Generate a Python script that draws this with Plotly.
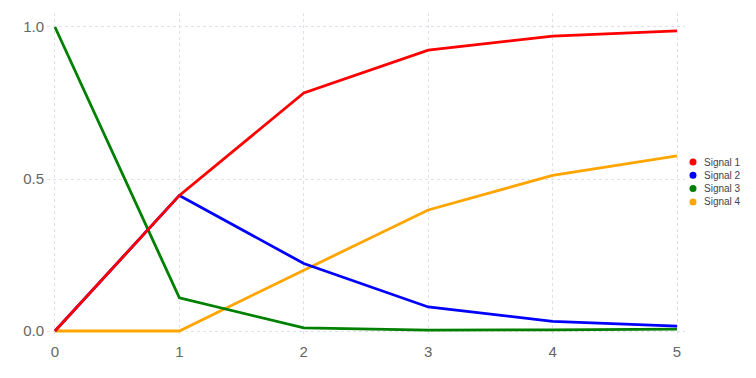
import plotly.graph_objects as go

steps = [0, 1, 2, 3, 4, 5]
signal_names = ["Signal 1", "Signal 2", "Signal 3", "Signal 4"]
signal_1 = [0.0, 0.446, 0.783, 0.924, 0.970, 0.987]
signal_2 = [0.0, 0.446, 0.222, 0.079, 0.032, 0.016]
signal_3 = [1.0, 0.109, 0.010, 0.003, 0.004, 0.006]
signal_4 = [0.0, 0.0, 0.200, 0.398, 0.512, 0.576]
colors = ["#ff0000", "#0000ff", "#008000", "#ffa500"]
y_ticks = [0.0, 0.5, 1.0]
y_tick_labels = ["0.0", "0.5", "1.0"]

series = [signal_1, signal_2, signal_3, signal_4]

fig = go.Figure()
# draw in reverse so Signal 1 is on top
for name, vals, col in reversed(list(zip(signal_names, series, colors))):
    fig.add_trace(go.Scatter(x=steps, y=vals, mode="lines", name=name,
                             line=dict(color=col, width=2.8),
                             showlegend=False, hoverinfo="skip"))

# page body has an 8px margin, so the figure is 8px smaller than the window
W, H = 748, 370
ML, MR, MT, MB = 39, 71, 5, 40
plot_w = W - ML - MR
plot_h = H - MT - MB

# compact legend on the right (circle swatch + label)
leg_x_px = 693 - 8 - ML          # circle centre, relative to plot left
leg_text_px = 703 - 8 - ML
leg_top_px = 162 - 8 - MT        # first item centre, relative to plot top
leg_step = 13.3
shapes = []
annotations = []
for i, (name, col) in enumerate(zip(signal_names, colors)):
    yc = 1 - (leg_top_px + i * leg_step) / plot_h
    xc = leg_x_px / plot_w
    shapes.append(dict(type="circle", xref="paper", yref="paper",
                       xsizemode="pixel", ysizemode="pixel",
                       xanchor=xc, yanchor=yc, x0=-3.5, x1=3.5, y0=-3.5, y1=3.5,
                       fillcolor=col, line=dict(width=0)))
    annotations.append(dict(x=leg_text_px / plot_w, y=yc, xref="paper", yref="paper",
                            text=name, showarrow=False, xanchor="left", yanchor="middle",
                            font=dict(size=10, color="#444444"),
                            borderpad=0))

grid = "#e0e0ec"
fig.update_layout(
    width=W, height=H,
    margin=dict(l=ML, r=MR, t=MT, b=MB, autoexpand=False),
    paper_bgcolor="white", plot_bgcolor="white",
    font=dict(family="Liberation Sans, Arial, sans-serif", color="#666666"),
    showlegend=False,
    shapes=shapes, annotations=annotations,
    xaxis=dict(range=[-0.064, 5.064], tickvals=steps, ticktext=[str(s) for s in steps],
               showgrid=True, gridcolor=grid, griddash="3px,3px", gridwidth=1,
               zeroline=False, showline=False, tickfont=dict(size=15, color="#666666"),
               ticks="", ticklabelstandoff=3, fixedrange=True),
    yaxis=dict(range=[-0.023, 1.046], tickvals=y_ticks, ticktext=y_tick_labels,
               showgrid=True, gridcolor=grid, griddash="3px,3px", gridwidth=1,
               zeroline=False, showline=False, tickfont=dict(size=15, color="#666666"),
               ticks="", ticklabelstandoff=2, fixedrange=True),
)

fig.write_html("out.html")
